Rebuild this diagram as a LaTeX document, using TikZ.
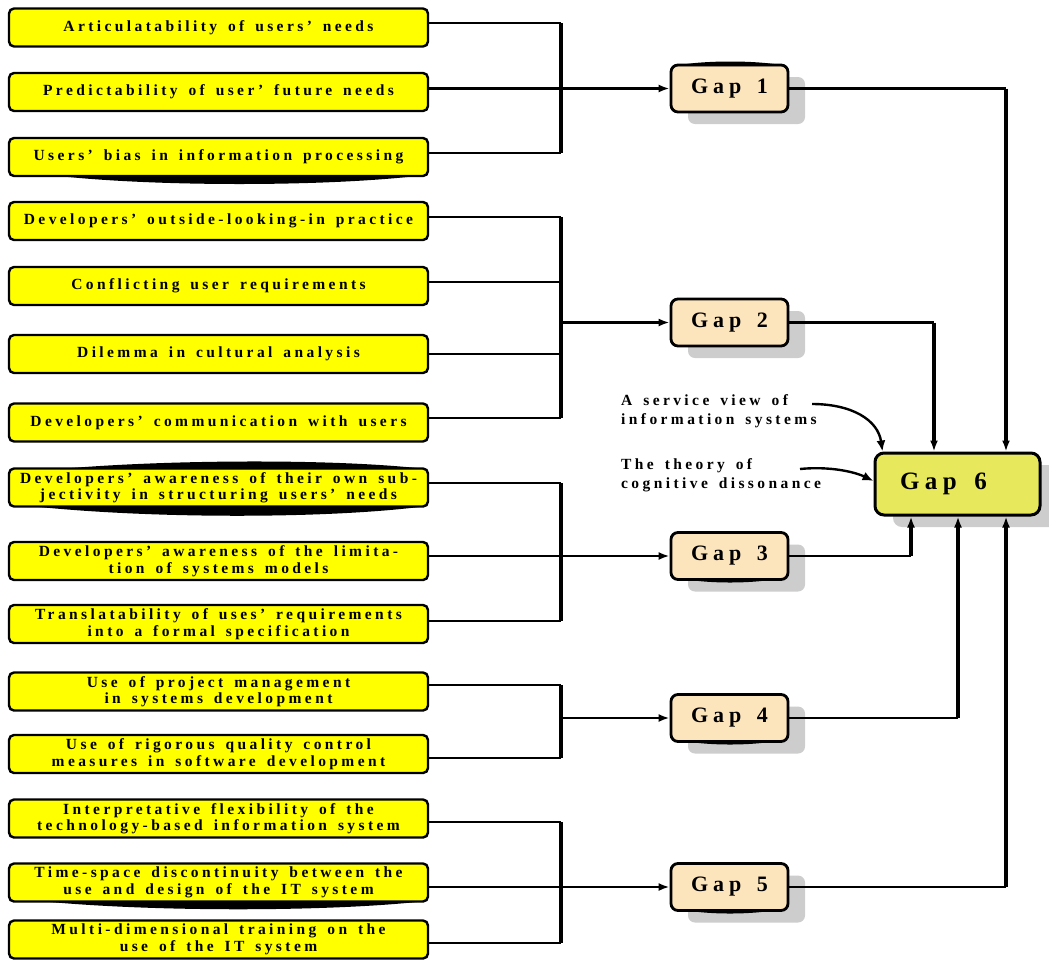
\documentclass[tikz,border=0pt]{standalone}
\usepackage{fontspec}
\setmainfont{Liberation Serif}
\newfontfamily\spfont[LetterSpace=22,WordSpace=1.5]{Liberation Serif}
\usetikzlibrary{arrows.meta,shadows}
\definecolor{boxyellow}{HTML}{FFFF00}
\definecolor{gapfill}{HTML}{FCE4BC}
\definecolor{gapsixfill}{HTML}{E8E85C}
\definecolor{shadowgray}{HTML}{CDCDCD}
\newcommand{\fline}[1]{\makebox[400pt]{#1}}
\tikzset{
  factor/.style={draw=black, line width=2.4pt, fill=boxyellow, rounded corners=5pt,
    minimum width=419pt, minimum height=38pt, inner sep=0pt, align=center,
    font=\spfont\bfseries\fontsize{15.5}{16.5}\selectfont},
  gapbox/.style={draw=black, line width=2.8pt, fill=gapfill, rounded corners=7pt,
    minimum width=117pt, minimum height=47pt, inner sep=0pt,
    font=\spfont\bfseries\fontsize{22}{24}\selectfont,
    drop shadow={shadow xshift=17pt, shadow yshift=-12pt, opacity=1, fill=shadowgray}},
  gapsix/.style={draw=black, line width=3pt, fill=gapsixfill, rounded corners=9pt,
    minimum width=165pt, minimum height=62pt, inner sep=0pt,
    font=\spfont\bfseries\fontsize{25}{28}\selectfont,
    drop shadow={shadow xshift=18pt, shadow yshift=-12pt, opacity=1, fill=shadowgray}},
  sidetext/.style={inner sep=0pt, align=left, anchor=west,
    font=\spfont\bfseries\fontsize{15.5}{19}\selectfont},
  hl/.style={line width=2.2pt},
  vl/.style={line width=3.4pt},
  arr/.style={-{Latex[length=11pt,width=8pt]}},
  curvearrow/.style={line width=2.4pt, -{Latex[length=11pt,width=9pt]}},
}
\begin{document}
\begin{tikzpicture}[x=1pt,y=-1pt]
\useasboundingbox (0,0) rectangle (1049,959);

% factor boxes
\node[factor] (b1) at (218.5,27.5) {\fline{Articulatability of users’ needs}};
\node[factor] (b2) at (218.5,92) {\fline{Predictability of user’ future needs}};
\node[factor] (b3) at (218.5,157) {\fline{Users’ bias in information processing}};
\node[factor] (b4) at (218.5,221) {\fline{Developers’ outside-looking-in practice}};
\node[factor] (b5) at (218.5,286) {\fline{Conflicting user requirements}};
\node[factor] (b6) at (218.5,354) {\fline{Dilemma in cultural analysis}};
\node[factor] (b7) at (218.5,422.5) {\fline{Developers’ communication with users}};
\node[factor] (b8) at (218.5,487.5) {\fline{Developers’ awareness of their own sub-}\\\fline{jectivity in structuring users’ needs}};
\node[factor] (b9) at (218.5,561) {\fline{Developers’ awareness of the limita-}\\\fline{tion of systems models}};
\node[factor] (b10) at (218.5,624) {\fline{Translatability of uses’ requirements}\\\fline{into a formal specification}};
\node[factor] (b11) at (218.5,691.5) {\fline{Use of project management}\\\fline{in systems development}};
\node[factor] (b12) at (218.5,754) {\fline{Use of rigorous quality control}\\\fline{measures in software development}};
\node[factor] (b13) at (218.5,818.5) {\fline{Interpretative flexibility of the}\\\fline{technology-based information system}};
\node[factor] (b14) at (218.5,882.5) {\fline{Time-space discontinuity between the}\\\fline{use and design of the IT system}};
\node[factor] (b15) at (218.5,939.5) {\fline{Multi-dimensional training on the}\\\fline{use of the IT system}};

% black bulges
\fill (50,175) .. controls (150,187) and (330,187) .. (425,175) -- cycle;
\fill (60,469) .. controls (160,460) and (330,458) .. (426,469) -- cycle;
\fill (30,506) .. controls (150,519) and (330,519) .. (427,506) -- cycle;
\fill (40,901) .. controls (150,912) and (330,912) .. (426,901) -- cycle;

% gap boxes
\node[gapbox] (g1) at (729.5,88.5) {Gap 1};
\node[gapbox] (g2) at (729.5,322.5) {Gap 2};
\node[gapbox] (g3) at (729.5,556) {Gap 3};
\node[gapbox] (g4) at (729.5,718) {Gap 4};
\node[gapbox] (g5) at (729.5,887) {Gap 5};
\node[gapsix] (g6) at (957.5,484) {\makebox[165pt][l]{\hspace*{25pt}Gap 6}};

\fill (676,66) .. controls (700,60) and (760,60) .. (785,66) -- cycle;
\fill (680,578) .. controls (705,584) and (755,584) .. (780,578) -- cycle;
\fill (680,740) .. controls (705,746) and (755,746) .. (780,740) -- cycle;
\fill (680,909) .. controls (705,915) and (755,915) .. (780,909) -- cycle;

% bracket coordinates
\coordinate (k11) at (561,23);
\coordinate (k12) at (561,88.5);
\coordinate (k13) at (561,153);
\coordinate (k21) at (561,217);
\coordinate (k22) at (561,282);
\coordinate (k23) at (561,354);
\coordinate (k24) at (561,418);
\coordinate (k2a) at (561,322.5);
\coordinate (k31) at (561,483);
\coordinate (k32) at (561,556);
\coordinate (k33) at (561,621);
\coordinate (k41) at (561,685);
\coordinate (k42) at (561,758);
\coordinate (k4a) at (561,718);
\coordinate (k51) at (561,822);
\coordinate (k52) at (561,887);
\coordinate (k53) at (561,943);

% group 1
\draw[hl] (b1.east |- k11) -- (k11);
\draw[hl] (b3.east |- k13) -- (k13);
\draw[vl] (k11) -- (k13);
\draw[hl,arr] (b2.east |- k12) -- (g1.west);
% group 2
\draw[hl] (b4.east |- k21) -- (k21);
\draw[hl] (b5.east |- k22) -- (k22);
\draw[hl] (b6.east |- k23) -- (k23);
\draw[hl] (b7.east |- k24) -- (k24);
\draw[vl] (k21) -- (k24);
\draw[hl,arr] (k2a) -- (g2.west);
% group 3
\draw[hl] (b8.east |- k31) -- (k31);
\draw[hl] (b10.east |- k33) -- (k33);
\draw[vl] (k31) -- (k33);
\draw[hl,arr] (b9.east |- k32) -- (g3.west);
% group 4
\draw[hl] (b11.east |- k41) -- (k41);
\draw[hl] (b12.east |- k42) -- (k42);
\draw[vl] (k41) -- (k42);
\draw[hl,arr] (k4a) -- (g4.west);
% group 5
\draw[hl] (b13.east |- k51) -- (k51);
\draw[hl] (b15.east |- k53) -- (k53);
\draw[vl] (k51) -- (k53);
\draw[hl,arr] (b14.east |- k52) -- (g5.west);

% gaps to gap 6
\coordinate (c1) at (1006,88.5);
\coordinate (c2) at (934,322.5);
\coordinate (c3) at (911,556);
\coordinate (c4) at (958,718);
\coordinate (c5) at (1006,887);
\draw[hl] (g1.east) -- (c1);
\draw[vl,arr] (c1) -- (g6.north -| c1);
\draw[hl] (g2.east) -- (c2);
\draw[vl,arr] (c2) -- (g6.north -| c2);
\draw[hl] (g3.east) -- (c3);
\draw[vl,arr] (c3) -- (g6.south -| c3);
\draw[hl] (g4.east) -- (c4);
\draw[vl,arr] (c4) -- (g6.south -| c4);
\draw[hl] (g5.east) -- (c5);
\draw[vl,arr] (c5) -- (g6.south -| c5);

% theories
\node[sidetext] (sv) at (621,411) {A service view of\\information systems};
\node[sidetext] (th) at (621,475) {The theory of\\cognitive dissonance};
\coordinate (svs) at (812,404);
\coordinate (ths) at (800,469);
\draw[curvearrow] (svs) .. controls (852,404) and (878,420) .. ([xshift=9pt]g6.north west);
\draw[curvearrow] (ths) .. controls (830,466) and (855,472) .. ([yshift=3pt]g6.west);
\end{tikzpicture}
\end{document}
